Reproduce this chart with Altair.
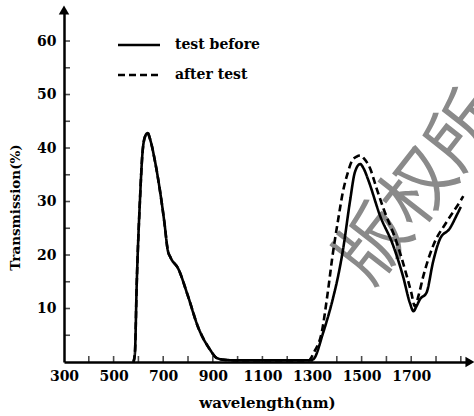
import altair as alt
import pandas as pd

# ---- data ----
series_names = ["test before", "after test"]

wl_before = [580, 586, 593, 606, 617, 628, 637, 648, 667, 687, 705, 718, 730, 760, 800, 840,
             889, 916, 950, 1000, 1100, 1200, 1290, 1305, 1345, 1385, 1405, 1425, 1453, 1473, 1494,
             1510, 1527, 1574, 1627, 1667, 1695, 1709, 1722, 1735, 1762, 1788, 1816, 1856, 1883, 1900]
t_before = [0, 1.7, 14.2, 30, 39.4, 42.3, 42.8, 41.5, 37.5, 32, 26, 21, 19.5, 17.5, 12.3, 6.6,
            2.3, 0.75, 0.4, 0.3, 0.3, 0.3, 0.3, 0.5, 5.5, 12, 16, 21, 30, 35.5, 37,
            36, 34, 27.4, 21.8, 16, 11, 9.5, 10.5, 11.7, 13, 18.7, 23, 25, 27.4, 29]

wl_after = [580, 586, 593, 606, 617, 628, 637, 648, 667, 687, 705, 718, 730, 760, 800, 840,
            889, 916, 950, 1000, 1100, 1200, 1285, 1310, 1339, 1362, 1385, 1405, 1425, 1445, 1460,
            1480, 1494, 1510, 1534, 1560, 1588, 1641, 1682, 1700, 1715, 1730, 1749, 1789, 1843, 1897, 1910]
t_after = [0, 1.7, 14.2, 30, 39.4, 42.3, 42.8, 41.5, 37.5, 32, 26, 21, 19.5, 17.5, 12.3, 6.6,
           2.3, 0.75, 0.4, 0.3, 0.3, 0.3, 0.3, 2, 5.5, 12.5, 20.6, 26.5, 31.9, 35.5, 37.5,
           38.4, 38.6, 38, 36.2, 32.5, 28.7, 22.4, 16.1, 13, 10.4, 12.5, 16.1, 21.8, 26.2, 30, 31]

x_label_values = [300, 500, 700, 900, 1100, 1300, 1500, 1700]
x_tick_values = list(range(400, 2000, 100))
y_label_values = [10, 20, 30, 40, 50, 60]
y_tick_values = list(range(5, 65, 5))

watermark_text = "版权所"

X_MAX = 1937
Y_MAX = 65.8

df = pd.concat([
    pd.DataFrame({"wl": wl_before, "T": t_before, "series": series_names[0]}),
    pd.DataFrame({"wl": wl_after, "T": t_after, "series": series_names[1]}),
])

FONT = "DejaVu Serif"
xscale = alt.Scale(domain=[300, X_MAX], nice=False, zero=False)
yscale = alt.Scale(domain=[0, Y_MAX], nice=False, zero=True)

x_axis = alt.Axis(values=x_label_values, format="d", title="wavelength(nm)", ticks=False, grid=False,
                  domainColor="black", domainWidth=2.5, labelFont=FONT, labelFontWeight="bold",
                  labelFontSize=14, labelColor="black", labelPadding=7, titleFont=FONT,
                  titleFontWeight="bold", titleFontSize=15, titleColor="black", titlePadding=12,
                  labelFlush=False, labelOverlap=False)
y_axis = alt.Axis(values=y_label_values, format="d", title="Transmission(%)", ticks=False, grid=False,
                  domainColor="black", domainWidth=2.5, labelFont=FONT, labelFontWeight="bold",
                  labelFontSize=14, labelColor="black", labelPadding=8, titleFont=FONT,
                  titleFontWeight="bold", titleFontSize=13.5, titleColor="black", titlePadding=14,
                  titleY=197, labelFlush=False, labelOverlap=False)

# watermark (behind everything)
watermark = alt.Chart(pd.DataFrame({"t": [watermark_text]})).mark_text(
    font="Noto Sans CJK SC", fontSize=72, color="#8a8a8a", angle=308, align="left",
    baseline="middle"
).encode(x=alt.value(290), y=alt.value(264), text="t:N")

lines = alt.Chart(df).mark_line(color="black", strokeWidth=2.6, interpolate="monotone").encode(
    x=alt.X("wl:Q", scale=xscale, axis=x_axis),
    y=alt.Y("T:Q", scale=yscale, axis=y_axis),
    strokeDash=alt.StrokeDash("series:N", scale=alt.Scale(domain=series_names, range=[[1, 0], [7, 4]]),
                              legend=None),
    detail="series:N",
)

xticks = alt.Chart(pd.DataFrame({"wl": x_tick_values, "z": 0})).mark_tick(
    orient="vertical", size=6, thickness=1.6, color="black", yOffset=-3
).encode(x=alt.X("wl:Q", scale=xscale), y=alt.Y("z:Q", scale=yscale))

yticks = alt.Chart(pd.DataFrame({"v": y_tick_values, "o": 300})).mark_tick(
    orient="horizontal", size=6, thickness=1.6, color="black", xOffset=3
).encode(y=alt.Y("v:Q", scale=yscale), x=alt.X("o:Q", scale=xscale))

arrow_up = alt.Chart(pd.DataFrame({"x": [300], "y": [Y_MAX]})).mark_point(
    shape="triangle-up", filled=True, size=110, color="black", opacity=1
).encode(x=alt.X("x:Q", scale=xscale), y=alt.Y("y:Q", scale=yscale))
arrow_right = alt.Chart(pd.DataFrame({"x": [X_MAX], "y": [0]})).mark_point(
    shape="triangle-right", filled=True, size=110, color="black", opacity=1
).encode(x=alt.X("x:Q", scale=xscale), y=alt.Y("y:Q", scale=yscale))

# manual legend
leg_df = pd.DataFrame({"series": series_names, "ypix": [35, 65]})
leg_lines = alt.Chart(leg_df).mark_rule(color="black", strokeWidth=2.4).encode(
    x=alt.value(54), x2=alt.value(96), y=alt.Y("ypix:Q", scale=None),
    strokeDash=alt.StrokeDash("series:N", scale=alt.Scale(domain=series_names, range=[[1, 0], [7, 4]]),
                              legend=None),
)
leg_text = alt.Chart(leg_df).mark_text(
    font=FONT, fontWeight="bold", fontSize=14, color="black", align="left", baseline="middle"
).encode(x=alt.value(111), y=alt.Y("ypix:Q", scale=None), text="series:N")

chart = alt.layer(watermark, lines, xticks, yticks, arrow_up, arrow_right, leg_lines, leg_text).properties(
    width=406, height=352,
    autosize=alt.AutoSizeParams(type="none"),
    padding={"left": 64, "top": 10, "right": 4, "bottom": 54},
    background="white",
).configure_view(stroke=None)

chart.save("out.html", embed_options={"renderer": "svg", "actions": False})
